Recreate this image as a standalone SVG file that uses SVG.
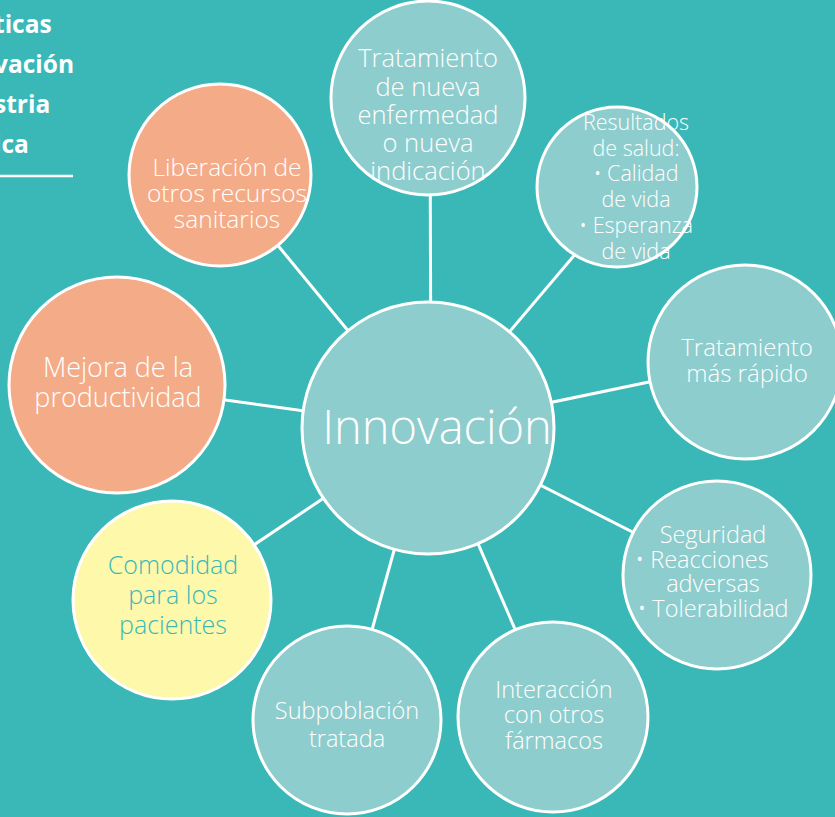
<svg xmlns="http://www.w3.org/2000/svg" width="835" height="817" viewBox="0 0 835 817">
<style>
.c{stroke:#fff;stroke-width:3}
.t{fill:#8ECDCD}
.o{fill:#F4AC88}
.y{fill:#FEF8AA}
text{font-family:"Open Sans","Noto Sans",sans-serif;font-weight:300;text-anchor:middle;fill:#fff}
.ttl{font-weight:700;text-anchor:start;font-size:24.5px}
</style>
<rect width="835" height="817" fill="#3AB8B8"/>
<g id="title">
<text class="ttl" x="-6" y="33">ticas</text>
<text class="ttl" x="-6" y="73">vación</text>
<text class="ttl" x="-6" y="113">stria</text>
<text class="ttl" x="-6" y="153">ica</text>
<line x1="0" y1="176" x2="73" y2="176" stroke="#fff" stroke-width="2.5"/>
</g>
<g id="connectors" stroke="#fff" stroke-width="3">
<line x1="431" y1="428" x2="430" y2="98"/>
<line x1="428" y1="428" x2="605" y2="219"/>
<line x1="428" y1="428" x2="745" y2="362"/>
<line x1="428" y1="428" x2="717" y2="575"/>
<line x1="428" y1="428" x2="553" y2="717"/>
<line x1="428" y1="428" x2="347" y2="720"/>
<line x1="428" y1="428" x2="172" y2="600"/>
<line x1="428" y1="428" x2="117" y2="385"/>
<line x1="428" y1="428" x2="220" y2="175"/>
</g>
<g id="n1"><circle class="c t" cx="428" cy="98" r="97"/>
<text font-size="25.5"><tspan x="428" y="67">Tratamiento</tspan><tspan x="428" y="96">de nueva</tspan><tspan x="428" y="124">enfermedad</tspan><tspan x="428" y="152">o nueva</tspan><tspan x="428" y="180">indicación</tspan></text></g>
<g id="n2"><circle class="c t" cx="617" cy="187" r="80"/>
<text font-size="21.5"><tspan x="636" y="130">Resultados</tspan><tspan x="636" y="156">de salud:</tspan><tspan x="636" y="181">• Calidad</tspan><tspan x="636" y="207">de vida</tspan><tspan x="636" y="233">• Esperanza</tspan><tspan x="636" y="259">de vida</tspan></text></g>
<g id="n3"><circle class="c t" cx="745" cy="362" r="97"/>
<text font-size="24"><tspan x="747" y="356">Tratamiento</tspan><tspan x="747" y="382">más rápido</tspan></text></g>
<g id="n4"><circle class="c t" cx="717" cy="575" r="94"/>
<text font-size="23.5"><tspan x="713" y="543">Seguridad</tspan><tspan x="702" y="568">• Reacciones</tspan><tspan x="713" y="592">adversas</tspan><tspan x="713" y="617">• Tolerabilidad</tspan></text></g>
<g id="n5"><circle class="c t" cx="553" cy="717" r="95"/>
<text font-size="23.5"><tspan x="554" y="698">Interacción</tspan><tspan x="554" y="723">con otros</tspan><tspan x="554" y="749">fármacos</tspan></text></g>
<g id="n6"><circle class="c t" cx="347" cy="720" r="94"/>
<text font-size="23.5"><tspan x="347" y="719">Subpoblación</tspan><tspan x="347" y="747">tratada</tspan></text></g>
<g id="n7"><circle class="c y" cx="172" cy="600" r="99"/>
<text font-size="25" style="fill:#3AB8B8"><tspan x="173" y="574">Comodidad</tspan><tspan x="173" y="604">para los</tspan><tspan x="173" y="634">pacientes</tspan></text></g>
<g id="n8"><circle class="c o" cx="117" cy="385" r="108"/>
<text font-size="27"><tspan x="118" y="377">Mejora de la</tspan><tspan x="118" y="407">productividad</tspan></text></g>
<g id="n9"><circle class="c o" cx="220" cy="175" r="91"/>
<text font-size="24.5"><tspan x="227" y="176">Liberación de</tspan><tspan x="227" y="202">otros recursos</tspan><tspan x="227" y="228">sanitarios</tspan></text></g>
<g id="center"><circle class="c t" cx="428" cy="428" r="126"/>
<text font-size="47" x="437" y="444">Innovación</text></g>
</svg>
